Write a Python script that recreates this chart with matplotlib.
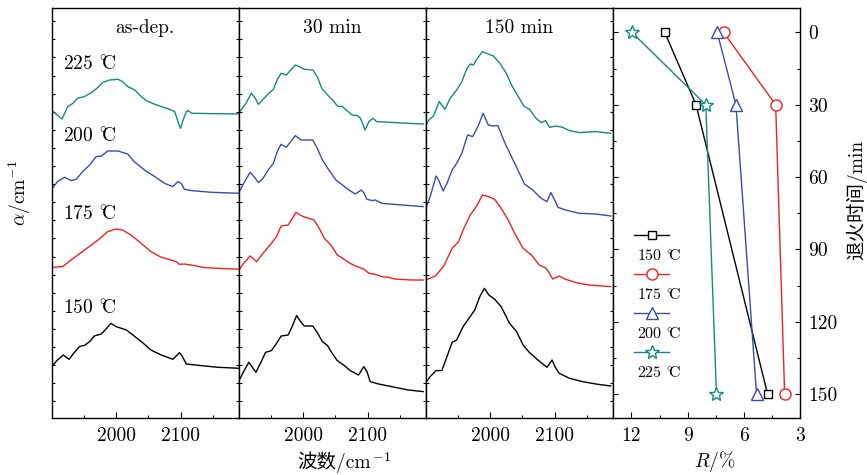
import matplotlib
matplotlib.use("Agg")
import matplotlib.pyplot as plt
from matplotlib.lines import Line2D
from matplotlib.ticker import FixedLocator
import numpy as np

plt.rcParams['font.family'] = ['cmr10', 'DejaVu Serif', 'DejaVu Sans', 'Noto Sans CJK SC']
plt.rcParams['mathtext.fontset'] = 'cm'
plt.rcParams['axes.formatter.use_mathtext'] = True
plt.rcParams['axes.unicode_minus'] = False

# ---------------- data ----------------
temps = ['150 $^{\\circ}\\!\\!\\mathrm{C}$', '175 $^{\\circ}\\!\\!\\mathrm{C}$',
         '200 $^{\\circ}\\!\\!\\mathrm{C}$', '225 $^{\\circ}\\!\\!\\mathrm{C}$']
colors = ['#000000', '#f0211f', '#3a4ea8', '#138a7f']
panel_titles = ['as-dep.', '30 min', '150 min']

# spectra (wavenumber cm^-1, absorption a.u. incl. stacking offset)
# panel 1: as-deposited
p1_150_w = [1902, 1909, 1918, 1927, 1935, 1943, 1951, 1959, 1966, 1977, 1984, 1992, 2000, 2008, 2016, 2028, 2041, 2054, 2070, 2088, 2095, 2098, 2102, 2109, 2132, 2158, 2192]
p1_150_a = [5.33, 5.83, 6.33, 5.9, 6.57, 7.17, 7.3, 7.67, 8.23, 8.43, 8.9, 9.5, 9.17, 9.0, 8.83, 8.23, 7.57, 6.83, 6.33, 5.9, 6.33, 6.57, 6.27, 5.43, 5.27, 5.1, 5.0]
p1_175_w = [1902, 1917, 1930, 1951, 1972, 1987, 2000, 2010, 2023, 2039, 2054, 2070, 2085, 2093, 2098, 2106, 2122, 2137, 2158, 2192]
p1_175_a = [15.1, 15.17, 15.83, 16.83, 17.83, 18.67, 18.93, 18.83, 18.33, 17.5, 16.67, 16.1, 15.83, 15.67, 15.4, 15.43, 15.27, 15.07, 15.0, 14.9]
p1_200_w = [1902, 1909, 1920, 1930, 1938, 1948, 1959, 1969, 1977, 1987, 2003, 2018, 2028, 2044, 2060, 2075, 2088, 2096, 2101, 2106, 2117, 2148, 2192]
p1_200_a = [23.07, 23.67, 24.1, 23.77, 23.9, 24.67, 25.33, 26.17, 26.23, 26.73, 26.73, 26.43, 25.67, 24.83, 24.17, 23.5, 23.17, 23.67, 23.5, 22.9, 22.77, 22.6, 22.5]
p1_225_w = [1902, 1916, 1925, 1933, 1940, 1951, 1964, 1972, 1979, 1990, 2003, 2010, 2018, 2029, 2039, 2047, 2060, 2075, 2086, 2091, 2096, 2100, 2104, 2109, 2112, 2117, 2192]
p1_225_a = [30.67, 29.93, 31.17, 31.5, 32.0, 32.17, 32.67, 33.1, 33.57, 33.83, 33.9, 33.67, 33.17, 32.83, 32.17, 31.77, 31.4, 31.07, 30.83, 30.67, 29.67, 29.0, 29.83, 30.67, 30.77, 30.5, 30.43]

# panel 2: annealed 30 min
p2_150_w = [1900, 1908, 1916, 1927, 1934, 1942, 1951, 1959, 1966, 1977, 1983, 1990, 1997, 2002, 2015, 2022, 2030, 2038, 2045, 2053, 2063, 2073, 2086, 2094, 2099, 2104, 2117, 2137, 2163, 2186]
p2_150_a = [3.67, 4.67, 5.6, 4.6, 5.5, 6.6, 6.77, 7.5, 8.23, 8.33, 9.17, 10.27, 9.6, 9.23, 9.23, 8.57, 7.67, 7.27, 6.5, 5.77, 5.33, 4.77, 4.33, 5.17, 4.67, 3.67, 3.43, 3.17, 2.83, 2.67]
p2_175_w = [1900, 1908, 1918, 1928, 1938, 1951, 1959, 1966, 1977, 1982, 1989, 1997, 2005, 2017, 2025, 2033, 2043, 2053, 2063, 2073, 2081, 2094, 2102, 2112, 2122, 2132, 2142, 2168, 2186]
p2_175_a = [14.77, 15.5, 16.23, 15.67, 16.5, 17.5, 18.17, 19.23, 19.33, 19.83, 20.6, 20.27, 20.07, 19.83, 19.0, 18.0, 17.33, 16.33, 15.93, 15.5, 15.23, 14.93, 14.5, 14.4, 14.17, 14.1, 13.93, 13.83, 13.83]
p2_200_w = [1900, 1908, 1918, 1926, 1931, 1938, 1946, 1954, 1961, 1966, 1974, 1982, 1988, 1997, 2015, 2022, 2030, 2040, 2051, 2061, 2071, 2081, 2090, 2094, 2099, 2107, 2112, 2122, 2153, 2186]
p2_200_a = [22.5, 23.5, 24.6, 24.0, 23.57, 24.0, 24.83, 25.5, 26.83, 27.4, 27.1, 27.77, 28.27, 27.83, 27.83, 27.0, 25.83, 24.83, 23.83, 23.33, 22.83, 22.43, 22.83, 22.57, 21.9, 21.77, 21.83, 21.5, 21.33, 21.17]
p2_225_w = [1900, 1910, 1920, 1926, 1931, 1938, 1946, 1954, 1961, 1966, 1974, 1982, 1988, 1994, 2002, 2015, 2022, 2029, 2038, 2048, 2053, 2061, 2068, 2076, 2084, 2089, 2096, 2102, 2108, 2114, 2153, 2186]
p2_225_a = [30.5, 31.33, 32.5, 32.0, 31.4, 31.9, 32.43, 32.9, 34.0, 34.5, 34.33, 34.9, 35.33, 35.17, 34.9, 34.83, 34.17, 33.0, 32.33, 31.67, 31.23, 31.17, 30.77, 30.33, 30.27, 30.0, 28.83, 29.67, 30.0, 29.67, 29.53, 29.43]

# panel 3: annealed 150 min
p3_150_w = [1900, 1907, 1916, 1925, 1933, 1941, 1948, 1958, 1969, 1976, 1984, 1991, 1998, 2007, 2017, 2030, 2041, 2051, 2061, 2074, 2088, 2096, 2101, 2107, 2123, 2143, 2164, 2187]
p3_150_a = [3.57, 4.17, 4.77, 4.77, 6.17, 7.6, 7.83, 9.17, 10.17, 10.83, 12.17, 13.0, 12.33, 11.9, 11.17, 9.5, 8.67, 7.33, 6.57, 5.83, 5.1, 5.83, 5.1, 4.5, 4.0, 3.67, 3.43, 3.23]
p3_175_w = [1900, 1915, 1928, 1941, 1951, 1958, 1969, 1979, 1988, 1997, 2007, 2017, 2028, 2038, 2051, 2064, 2076, 2087, 2097, 2107, 2117, 2133, 2153, 2187]
p3_175_a = [13.83, 14.23, 15.23, 17.0, 17.67, 18.83, 20.33, 21.23, 22.33, 22.17, 21.9, 21.0, 19.83, 18.5, 17.0, 16.33, 15.33, 15.0, 13.93, 14.23, 13.9, 13.57, 13.33, 13.17]
p3_200_w = [1900, 1907, 1916, 1920, 1927, 1933, 1941, 1948, 1956, 1965, 1973, 1982, 1989, 1997, 2005, 2012, 2023, 2033, 2043, 2053, 2066, 2079, 2088, 2094, 2100, 2105, 2117, 2138, 2164, 2187]
p3_200_a = [21.0, 22.17, 24.23, 23.83, 22.73, 23.5, 24.83, 25.5, 26.5, 28.33, 28.17, 29.33, 30.5, 29.33, 29.23, 29.27, 27.5, 26.17, 24.83, 23.43, 22.83, 22.0, 21.67, 22.57, 21.83, 21.1, 20.83, 20.5, 20.43, 20.23]
p3_225_w = [1900, 1905, 1912, 1921, 1925, 1930, 1938, 1948, 1956, 1964, 1969, 1974, 1979, 1988, 1997, 2005, 2015, 2025, 2033, 2043, 2053, 2061, 2071, 2079, 2086, 2092, 2102, 2112, 2123, 2138, 2164, 2187]
p3_225_a = [29.33, 29.83, 30.23, 31.67, 31.33, 30.9, 32.0, 32.83, 33.67, 35.0, 35.43, 35.33, 35.9, 36.67, 36.43, 36.23, 35.5, 34.5, 33.33, 32.23, 31.17, 30.9, 30.0, 29.57, 29.77, 29.1, 29.23, 29.1, 28.77, 28.57, 28.67, 28.5]

spectra = [
    [(p1_150_w, p1_150_a), (p1_175_w, p1_175_a), (p1_200_w, p1_200_a), (p1_225_w, p1_225_a)],
    [(p2_150_w, p2_150_a), (p2_175_w, p2_175_a), (p2_200_w, p2_200_a), (p2_225_w, p2_225_a)],
    [(p3_150_w, p3_150_a), (p3_175_w, p3_175_a), (p3_200_w, p3_200_a), (p3_225_w, p3_225_a)],
]

# R (%) vs annealing time (min)
anneal_time = [0, 30, 150]
R_150 = [10.22, 8.55, 4.73]
R_175 = [7.08, 4.30, 3.82]
R_200 = [7.42, 6.42, 5.32]
R_225 = [11.97, 8.03, 7.46]
R_all = [R_150, R_175, R_200, R_225]
markers = ['s', 'o', '^', '*']
msizes = [6, 8, 8.5, 10]

# ---------------- figure ----------------
W, H = 867, 475
fig = plt.figure(figsize=(W / 100, H / 100), dpi=100)

def fx(px):
    return px / W

def fy(py):
    return 1 - py / H

top_px, bot_px = 8.3, 418.3
edges = [51.7, 238.5, 425.7, 612.7, 800.0]
FS = 14

spec_axes = []
for i in range(3):
    ax = fig.add_axes([fx(edges[i]), fy(bot_px), fx(edges[i + 1] - edges[i]), (bot_px - top_px) / H])
    spec_axes.append(ax)
    for (w, a), c in zip(spectra[i], colors):
        ax.plot(w, a, color=c, lw=1.0, solid_joinstyle='round')
    ax.set_xlim(1900, 2190)
    ax.set_ylim(0, 41)
    ax.xaxis.set_major_locator(FixedLocator([2000, 2100]))
    ax.xaxis.set_minor_locator(FixedLocator([1950, 2050, 2150]))
    ax.yaxis.set_major_locator(FixedLocator(list(np.arange(1.7, 41, 1.81))))
    ax.set_yticklabels([])
    ax.set_xticklabels(['2000', '2100'])
    ax.tick_params(axis='x', which='major', direction='in', length=4, width=0.8, labelsize=FS, pad=6, top=False)
    ax.tick_params(axis='x', which='minor', direction='in', length=2.5, width=0.8, top=False)
    ax.tick_params(axis='y', which='major', direction='in', length=2.2, width=0.8, left=True, right=True)
    for s in ax.spines.values():
        s.set_linewidth(1.0)
    ax.text(0.5, 0.953, panel_titles[i], transform=ax.transAxes, ha='center', va='center', fontsize=FS)

# temperature labels in first panel
label_y = [0.267, 0.496, 0.686, 0.862]
for t, yy in zip(temps, label_y):
    spec_axes[0].text(0.062, yy, t, transform=spec_axes[0].transAxes, ha='left', va='center', fontsize=FS)

# right panel
axr = fig.add_axes([fx(edges[3]), fy(bot_px), fx(edges[4] - edges[3]), (bot_px - top_px) / H])
handles = []
for R, c, m, ms in zip(R_all, colors, markers, msizes):
    ln, = axr.plot(R, anneal_time, color=c, lw=1.0, marker=m, ms=ms, mfc='white', mec=c, mew=1.0)
    handles.append(ln)
axr.set_xlim(13, 3)
axr.set_ylim(160, -10)
axr.xaxis.set_major_locator(FixedLocator([12, 9, 6, 3]))
axr.xaxis.set_minor_locator(FixedLocator([10.5, 7.5, 4.5]))
axr.set_xticklabels(['12', '9', '6', '3'])
axr.yaxis.set_major_locator(FixedLocator([0, 30, 60, 90, 120, 150]))
axr.yaxis.set_minor_locator(FixedLocator([15, 45, 75, 105, 135]))
axr.yaxis.tick_right()
axr.set_yticklabels(['0', '30', '60', '90', '120', '150'])
axr.tick_params(axis='x', which='major', direction='in', length=4, width=0.8, labelsize=FS, pad=6, top=False)
axr.tick_params(axis='x', which='minor', direction='in', length=2.5, width=0.8, top=False)
axr.tick_params(axis='y', which='major', direction='in', length=3.5, width=0.8, labelsize=FS, pad=6, left=True, right=True)
axr.tick_params(axis='y', which='minor', direction='in', length=2, width=0.8, left=True, right=True)
for s in axr.spines.values():
    s.set_linewidth(1.0)

# legend: marker line on one row, label text on the next
leg_h, leg_l = [], []
for h, t in zip(handles, temps):
    leg_h.append(h)
    leg_l.append(' ')
    leg_h.append(Line2D([], [], linestyle='none', marker=None))
    leg_l.append(t)
leg = axr.legend(leg_h, leg_l, loc='upper left', bbox_to_anchor=(0.115, 0.46), frameon=False,
                 fontsize=11.5, handlelength=2.2, handletextpad=-2.0, labelspacing=0.28,
                 borderpad=0, borderaxespad=0, markerscale=1.0)

# axis labels
fig.text(fx(20), fy(193), r'$\alpha/\mathrm{cm}^{-1}$', rotation=90, ha='center', va='center', fontsize=FS)
t_wn = fig.text(fx(334), fy(462), '波数/cm', ha='center', va='center', fontsize=FS,
                family=['cmr10', 'Noto Sans CJK SC'])
spec_axes[1].annotate(r'$^{-1}$', xy=(1.0, 0.5), xycoords=t_wn,
                      xytext=(1, 0), textcoords='offset points',
                      ha='left', va='center', fontsize=FS, annotation_clip=False)
fig.text(fx(715), fy(462), r'$R$/%', ha='center', va='center', fontsize=FS)
fig.text(fx(857), fy(200), '退火时间/min', rotation=90, ha='center', va='center', fontsize=FS,
         family=['cmr10', 'Noto Sans CJK SC'])

fig.savefig('out.png', dpi=100)
